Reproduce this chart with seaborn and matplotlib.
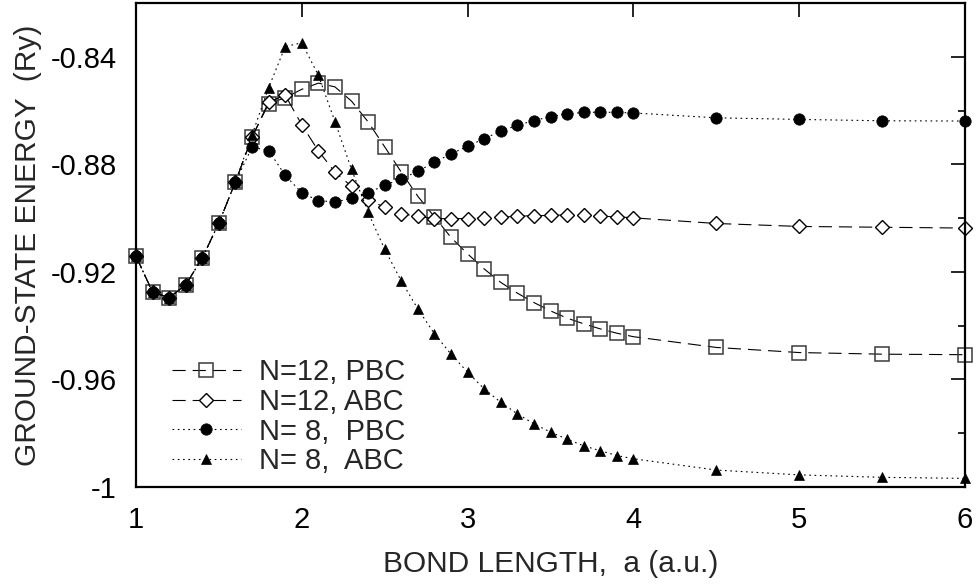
import matplotlib
matplotlib.use("Agg")
import matplotlib.pyplot as plt
import seaborn as sns
from matplotlib.ticker import FixedLocator, FuncFormatter

# ---------------- data ----------------
bond_length = [1.0, 1.1, 1.2, 1.3, 1.4, 1.5, 1.6, 1.7, 1.8, 1.9,
               2.0, 2.1, 2.2, 2.3, 2.4, 2.5, 2.6, 2.7, 2.8, 2.9,
               3.0, 3.1, 3.2, 3.3, 3.4, 3.5, 3.6, 3.7, 3.8, 3.9,
               4.0, 4.5, 5.0, 5.5, 6.0]

n12_pbc = [-0.9142, -0.9275, -0.9296, -0.9248, -0.9148, -0.9018, -0.8865, -0.8698, -0.8575, -0.8552,
           -0.8521, -0.8498, -0.8512, -0.8565, -0.8642, -0.8735, -0.8829, -0.8919, -0.8995, -0.9072,
           -0.9133, -0.9189, -0.9239, -0.9279, -0.9314, -0.9345, -0.9372, -0.9393, -0.9412, -0.9428,
           -0.9441, -0.9481, -0.9500, -0.9506, -0.9508]

n12_abc = [-0.9142, -0.9275, -0.9296, -0.9248, -0.9148, -0.9018, -0.8865, -0.8700, -0.8568, -0.8543,
           -0.8653, -0.8750, -0.8829, -0.8882, -0.8931, -0.8960, -0.8983, -0.8994, -0.9002, -0.9002,
           -0.9002, -0.8999, -0.8997, -0.8993, -0.8991, -0.8990, -0.8988, -0.8990, -0.8993, -0.8995,
           -0.8999, -0.9020, -0.9031, -0.9034, -0.9037]

n8_pbc = [-0.9142, -0.9275, -0.9296, -0.9248, -0.9148, -0.9018, -0.8865, -0.8736, -0.8749, -0.8841,
          -0.8906, -0.8935, -0.8940, -0.8927, -0.8906, -0.8878, -0.8854, -0.8826, -0.8792, -0.8761,
          -0.8733, -0.8704, -0.8677, -0.8655, -0.8637, -0.8623, -0.8612, -0.8607, -0.8606, -0.8607,
          -0.8609, -0.8627, -0.8633, -0.8638, -0.8639]

n8_abc = [-0.9142, -0.9275, -0.9296, -0.9248, -0.9148, -0.9018, -0.8865, -0.8690, -0.8515, -0.8362,
          -0.8348, -0.8469, -0.8641, -0.8819, -0.8979, -0.9116, -0.9234, -0.9338, -0.9430, -0.9506,
          -0.9573, -0.9635, -0.9685, -0.9728, -0.9765, -0.9796, -0.9822, -0.9847, -0.9865, -0.9883,
          -0.9895, -0.9937, -0.9955, -0.9964, -0.9968]

series_labels = ["N=12, PBC", "N=12, ABC", "N= 8,  PBC", "N= 8,  ABC"]
x_ticks = [1, 2, 3, 4, 5, 6]
y_major = [-1.0, -0.96, -0.92, -0.88, -0.84]
y_minor = [-0.98, -0.94, -0.90, -0.86]

# ---------------- style ----------------
sns.set_style("white")
plt.rcParams["font.family"] = ["Liberation Sans", "DejaVu Sans"]
plt.rcParams["lines.scale_dashes"] = False
plt.rcParams["axes.unicode_minus"] = False

fig = plt.figure(figsize=(9.8, 5.84), dpi=100)
ax = fig.add_axes([136 / 980, 97 / 584, 829 / 980, 484 / 584])

dashed = (0, (9.5, 5))
dotted = (0, (1.2, 2.6))

styles = [
    dict(marker="s", markersize=10, markerfacecolor="none", markeredgecolor="#3a3a3a",
         markeredgewidth=1.1, linestyle=dashed),
    dict(marker="D", markersize=7.4, markerfacecolor="white", markeredgecolor="black",
         markeredgewidth=1.0, linestyle=dashed),
    dict(marker="o", markersize=8.2, markerfacecolor="black", markeredgecolor="black",
         markeredgewidth=0.5, linestyle=dotted),
    dict(marker="^", markersize=7.8, markerfacecolor="black", markeredgecolor="black",
         markeredgewidth=0.5, linestyle=dotted),
]

for vals, lab, st in zip([n12_pbc, n12_abc, n8_pbc, n8_abc], series_labels, styles):
    sns.lineplot(x=bond_length, y=vals, ax=ax, color="black", linewidth=0.8,
                 label=lab, clip_on=False, errorbar=None, sort=False, **st)

ax.set_xlim(1, 6)
ax.set_ylim(-1.0, -0.82)
ax.xaxis.set_major_locator(FixedLocator(x_ticks))
ax.yaxis.set_major_locator(FixedLocator(y_major))
ax.yaxis.set_minor_locator(FixedLocator(y_minor))
ax.xaxis.set_major_formatter(FuncFormatter(lambda v, p: f"{v:g}"))
ax.yaxis.set_major_formatter(FuncFormatter(lambda v, p: f"{round(v, 2):g}"))

ax.tick_params(which="both", direction="in", top=True, right=True, colors="black",
               labelsize=21, width=1.2)
ax.tick_params(which="major", length=10, pad=14)
ax.tick_params(which="minor", length=5)
for sp in ax.spines.values():
    sp.set_color("black")
    sp.set_linewidth(1.6)

ax.set_xlabel("BOND LENGTH,  a (a.u.)", fontsize=21.5, labelpad=11)
ax.set_ylabel("GROUND-STATE ENERGY  (Ry)", fontsize=21.5, labelpad=6)

handles = ax.get_lines()[:4]
leg = ax.legend(handles, series_labels, loc="center left",
                bbox_to_anchor=(0.0434, 0.145), frameon=False, fontsize=21,
                handlelength=2.35, handletextpad=0.65, labelspacing=0.06,
                borderpad=0, borderaxespad=0, numpoints=1)

fig.savefig("out.png", dpi=100)
